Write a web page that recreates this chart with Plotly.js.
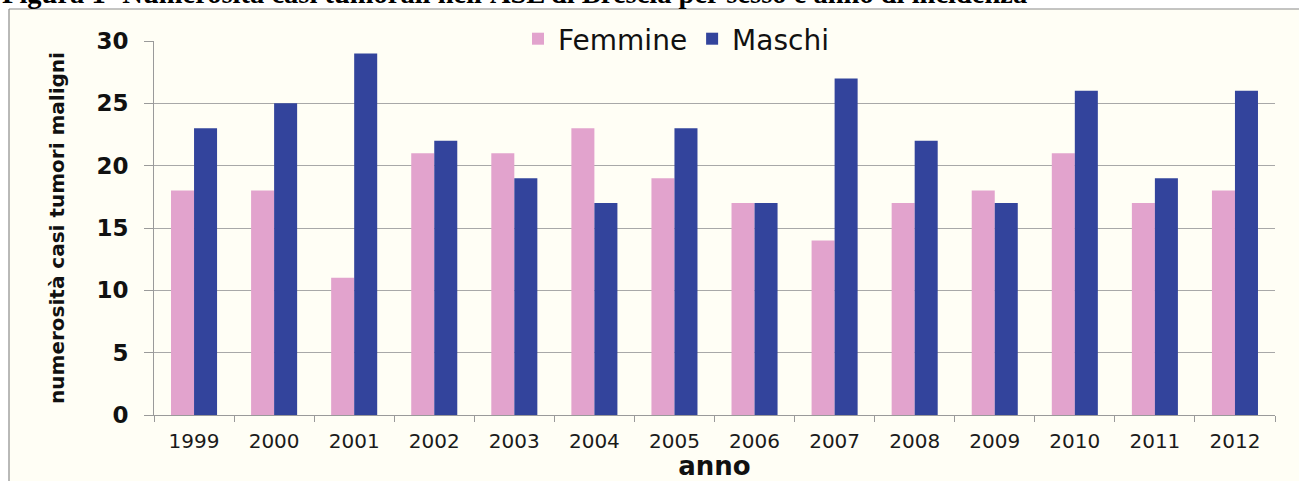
<!DOCTYPE html>
<html>
<head>
<meta charset="utf-8">
<script src="https://cdn.plot.ly/plotly-3.0.1.min.js"></script>
<style>
html,body{margin:0;padding:0;background:#ffffff;}
#chart{width:1299px;height:481px;}
</style>
</head>
<body>
<div id="chart"></div>
<script>
const anni = ['1999','2000','2001','2002','2003','2004','2005','2006','2007','2008','2009','2010','2011','2012'];
const femmine = [18,18,11,21,21,23,19,17,14,17,18,21,17,18];
const maschi = [23,25,29,22,19,17,23,17,27,22,17,26,19,26];
const titoloFigura = "Figura 1- Numerosità casi tumorali nell'ASL di Brescia per sesso e anno di incidenza";
const titoloY = 'numerosità casi tumori maligni';
const titoloX = 'anno';

const W = 1299, H = 481;
const M = {l:154, r:24, t:41, b:66};
const pw = W - M.l - M.r, ph = H - M.t - M.b;
const px = x => (x - M.l) / pw;
const py = y => 1 - (y - M.t) / ph;
const cream = '#fffef5';
const sans = 'DejaVu Sans, sans-serif';

const traces = [
  {type:'bar', name:'Femmine', x:anni, y:femmine, marker:{color:'#e2a3cd'}, hoverinfo:'x+y'},
  {type:'bar', name:'Maschi', x:anni, y:maschi, marker:{color:'#33449c'}, hoverinfo:'x+y'}
];

const layout = {
  width:W, height:H,
  margin:M,
  paper_bgcolor:cream,
  plot_bgcolor:cream,
  barmode:'group',
  bargap:0.425,
  bargroupgap:0,
  showlegend:true,
  legend:{orientation:'h', x:px(676), xanchor:'center', y:py(39), yanchor:'middle',
          bgcolor:cream, font:{family:sans, size:28, color:'#111'}, itemwidth:30,
          traceorder:'normal', tracegroupgap:0},
  xaxis:{type:'category', showline:true, linecolor:'#9a9a9a', linewidth:1,
         ticks:'outside', tickson:'boundaries', ticklen:6, tickcolor:'#9a9a9a',
         tickfont:{family:sans, size:20, color:'#1a1a1a'}, ticklabelstandoff:8,
         showgrid:false, fixedrange:true,
         title:{text:'<b>'+titoloX+'</b>', font:{family:sans, size:26, color:'#111'}, standoff:0}},
  yaxis:{range:[0,30], dtick:5, showline:true, linecolor:'#9a9a9a', linewidth:1,
         ticks:'outside', ticklen:9, tickcolor:'#9a9a9a',
         showgrid:true, gridcolor:'#a8a8a8', gridwidth:1, zeroline:false,
         tickfont:{family:sans, size:23, color:'#111', weight:'bold'},
         ticklabelstandoff:11, fixedrange:true,
         title:{text:'<b>'+titoloY+'</b>', font:{family:sans, size:20, color:'#111'}, standoff:26}},
  shapes:[
    {type:'rect', xref:'paper', yref:'paper', x0:px(0), x1:px(W), y0:py(0), y1:py(9), fillcolor:'#ffffff', line:{width:0}, layer:'above'},
    {type:'rect', xref:'paper', yref:'paper', x0:px(0), x1:px(9), y0:py(0), y1:py(H), fillcolor:'#ffffff', line:{width:0}, layer:'above'},
    {type:'line', xref:'paper', yref:'paper', x0:px(9), x1:px(W), y0:py(9), y1:py(9), line:{color:'#8a8a8a', width:1.2}, layer:'above'},
    {type:'line', xref:'paper', yref:'paper', x0:px(9), x1:px(9), y0:py(9), y1:py(H), line:{color:'#8a8a8a', width:1.2}, layer:'above'}
  ],
  annotations:[
    {xref:'paper', yref:'paper', x:px(0), xanchor:'left', y:py(11), yanchor:'bottom',
     text:'<b>'+titoloFigura+'</b>', showarrow:false,
     font:{family:'Liberation Serif, serif', size:28.5, color:'#000'}}
  ]
};

Plotly.newPlot('chart', traces, layout, {displayModeBar:false, staticPlot:true});
</script>
</body>
</html>
